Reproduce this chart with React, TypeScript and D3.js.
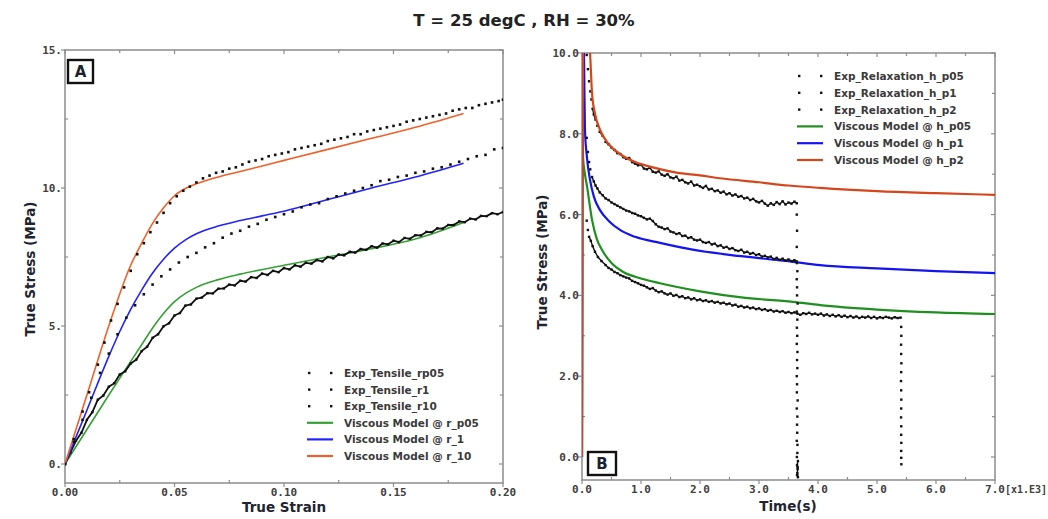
import React from "react";
import * as d3 from "d3";

type P = [number, number];

const chartTitle = "T = 25 degC , RH = 30%";

// ---------- Panel A axes ----------
const strainTicks = [0, 0.05, 0.1, 0.15, 0.2];
const strainTickLabels = ["0.00", "0.05", "0.10", "0.15", "0.20"];
const strainMinorTicks = [0.025, 0.075, 0.125, 0.175];
const stressTicksA = [0, 5, 10, 15];
const stressTickLabelsA = ["0.", "5.", "10.", "15."];
const stressMinorTicksA = [2.5, 7.5, 12.5];

// ---------- Panel B axes ----------
const timeTicks = [0, 1000, 2000, 3000, 4000, 5000, 6000, 7000];
const timeTickLabels = ["0.0", "1.0", "2.0", "3.0", "4.0", "5.0", "6.0", "7.0"];
const timeMinorTicks = [500, 1500, 2500, 3500, 4500, 5500, 6500];
const stressTicksB = [0, 2, 4, 6, 8, 10];
const stressTickLabelsB = ["0.0", "2.0", "4.0", "6.0", "8.0", "10.0"];
const stressMinorTicksB = [1, 3, 5, 7, 9];

// ---------- Panel A data (true strain, true stress MPa) ----------
const expTensileRp05: P[] = [
  [0, 0], [0.0025, 0.42], [0.005, 0.84], [0.0075, 1.13], [0.01, 1.6], [0.0125, 1.88], [0.015, 2.33], [0.0175, 2.48],
  [0.02, 2.8], [0.0225, 2.93], [0.025, 3.24], [0.0275, 3.36], [0.03, 3.64], [0.0325, 3.78], [0.035, 4.09], [0.0375, 4.25],
  [0.04, 4.57], [0.0425, 4.7], [0.045, 4.99], [0.0475, 5.1], [0.05, 5.38], [0.0525, 5.47], [0.055, 5.74], [0.0575, 5.78],
  [0.06, 5.99], [0.0625, 6.03], [0.065, 6.19], [0.0675, 6.18], [0.07, 6.35], [0.0725, 6.36], [0.075, 6.5], [0.0775, 6.47],
  [0.08, 6.64], [0.0825, 6.61], [0.085, 6.77], [0.0875, 6.74], [0.09, 6.9], [0.0925, 6.85], [0.095, 7.0], [0.0975, 6.95],
  [0.1, 7.1], [0.1025, 7.05], [0.105, 7.2], [0.1075, 7.15], [0.11, 7.29], [0.1125, 7.26], [0.115, 7.39], [0.1175, 7.34],
  [0.12, 7.5], [0.1225, 7.45], [0.125, 7.59], [0.1275, 7.56], [0.13, 7.69], [0.1325, 7.66], [0.135, 7.79], [0.1375, 7.76],
  [0.14, 7.89], [0.1425, 7.84], [0.145, 7.99], [0.1475, 7.96], [0.15, 8.09], [0.1525, 8.04], [0.155, 8.19], [0.1575, 8.16],
  [0.16, 8.29], [0.1625, 8.28], [0.165, 8.41], [0.1675, 8.4], [0.17, 8.54], [0.1725, 8.53], [0.175, 8.66], [0.1775, 8.66],
  [0.18, 8.79], [0.1825, 8.76], [0.185, 8.89], [0.1875, 8.86], [0.19, 8.99], [0.1925, 8.98], [0.195, 9.09], [0.1975, 9.05],
  [0.2, 9.13],
];

const expTensileR1: P[] = [
  [0, 0], [0.004, 0.8], [0.008, 1.6], [0.012, 2.4], [0.016, 3.3], [0.02, 4.0], [0.024, 4.7], [0.028, 5.3],
  [0.032, 5.75], [0.036, 6.15], [0.04, 6.5], [0.044, 6.8], [0.048, 7.05], [0.052, 7.3], [0.056, 7.5], [0.06, 7.65],
  [0.064, 7.85], [0.068, 8.0], [0.072, 8.2], [0.076, 8.35], [0.08, 8.45], [0.084, 8.6], [0.088, 8.7], [0.092, 8.85],
  [0.096, 8.95], [0.1, 9.05], [0.104, 9.15], [0.108, 9.3], [0.112, 9.4], [0.116, 9.45], [0.12, 9.6], [0.124, 9.7],
  [0.128, 9.8], [0.132, 9.9], [0.136, 10.0], [0.14, 10.1], [0.144, 10.25], [0.148, 10.3], [0.152, 10.4], [0.156, 10.45],
  [0.16, 10.55], [0.164, 10.6], [0.168, 10.7], [0.172, 10.75], [0.176, 10.85], [0.18, 10.95], [0.184, 11.05], [0.188, 11.15],
  [0.192, 11.2], [0.196, 11.4], [0.2, 11.45],
];

const expTensileR10: P[] = [
  [0, 0], [0.004, 0.9], [0.008, 1.9], [0.011, 2.6], [0.015, 3.6], [0.018, 4.4], [0.021, 5.2], [0.024, 5.8],
  [0.027, 6.4], [0.03, 7.0], [0.033, 7.6], [0.036, 8.0], [0.039, 8.4], [0.042, 8.75], [0.045, 9.1], [0.048, 9.45],
  [0.051, 9.7], [0.054, 9.9], [0.057, 10.05], [0.06, 10.2], [0.063, 10.35], [0.066, 10.45], [0.069, 10.55], [0.072, 10.6],
  [0.075, 10.7], [0.078, 10.75], [0.081, 10.85], [0.084, 10.95], [0.087, 11.0], [0.09, 11.05], [0.093, 11.15], [0.096, 11.2],
  [0.099, 11.25], [0.102, 11.3], [0.105, 11.4], [0.108, 11.45], [0.111, 11.5], [0.114, 11.55], [0.117, 11.6], [0.12, 11.7],
  [0.123, 11.75], [0.126, 11.8], [0.129, 11.85], [0.132, 11.95], [0.135, 11.95], [0.138, 12.05], [0.141, 12.1], [0.144, 12.15],
  [0.147, 12.2], [0.15, 12.25], [0.153, 12.3], [0.156, 12.4], [0.159, 12.45], [0.162, 12.5], [0.165, 12.55], [0.168, 12.6],
  [0.171, 12.65], [0.174, 12.7], [0.177, 12.8], [0.18, 12.85], [0.183, 12.9], [0.186, 12.9], [0.189, 13.0], [0.192, 13.05],
  [0.195, 13.1], [0.198, 13.15], [0.2, 13.2],
];

const modelRp05: P[] = [
  [0, 0], [0.01, 1.25], [0.02, 2.5], [0.03, 3.72], [0.035, 4.32], [0.04, 4.93], [0.045, 5.45], [0.05, 5.88],
  [0.055, 6.18], [0.06, 6.4], [0.07, 6.68], [0.08, 6.88], [0.1, 7.2], [0.12, 7.5], [0.14, 7.8], [0.16, 8.15], [0.182, 8.75],
];
const modelR1: P[] = [
  [0, 0], [0.01, 1.95], [0.02, 3.9], [0.025, 4.8], [0.03, 5.6], [0.035, 6.3], [0.04, 6.92], [0.045, 7.42], [0.05, 7.82],
  [0.055, 8.12], [0.06, 8.34], [0.07, 8.62], [0.08, 8.82], [0.09, 8.99], [0.1, 9.16], [0.12, 9.58], [0.14, 10.0],
  [0.16, 10.4], [0.182, 10.9],
];
const modelR10: P[] = [
  [0, 0], [0.01, 2.5], [0.02, 5.0], [0.03, 7.2], [0.035, 8.0], [0.04, 8.72], [0.045, 9.28], [0.05, 9.72], [0.055, 9.98],
  [0.06, 10.15], [0.07, 10.4], [0.08, 10.6], [0.09, 10.8], [0.1, 11.0], [0.12, 11.4], [0.14, 11.8], [0.16, 12.2], [0.182, 12.7],
];

// ---------- Panel B data (time s, true stress MPa) ----------
const expRelaxHp05: P[] = [
  [80, 5.85], [100, 5.62], [120, 5.45], [150, 5.35], [180, 5.22], [220, 5.08], [270, 4.95], [330, 4.85], [400, 4.75],
  [450, 4.68], [500, 4.64], [550, 4.58], [600, 4.55], [650, 4.5], [700, 4.47], [750, 4.44], [800, 4.42], [850, 4.36],
  [900, 4.33], [950, 4.3], [1000, 4.26], [1050, 4.24], [1100, 4.2], [1150, 4.16], [1200, 4.18], [1250, 4.12], [1300, 4.08],
  [1350, 4.1], [1400, 4.05], [1450, 4.02], [1500, 4.05], [1550, 3.99], [1600, 4.01], [1650, 3.96], [1700, 3.98], [1750, 3.93],
  [1800, 3.95], [1850, 3.9], [1900, 3.93], [1950, 3.88], [2000, 3.9], [2050, 3.86], [2100, 3.88], [2150, 3.84], [2200, 3.86],
  [2250, 3.82], [2300, 3.84], [2350, 3.8], [2400, 3.82], [2450, 3.78], [2500, 3.8], [2550, 3.75], [2600, 3.77], [2650, 3.72],
  [2700, 3.74], [2750, 3.7], [2800, 3.72], [2850, 3.68], [2900, 3.7], [2950, 3.66], [3000, 3.68], [3050, 3.64], [3100, 3.66],
  [3150, 3.62], [3200, 3.64], [3250, 3.6], [3300, 3.62], [3350, 3.59], [3400, 3.61], [3450, 3.57], [3500, 3.59], [3550, 3.56],
  [3600, 3.58], [3650, 3.55], [3700, 3.52], [3750, 3.56], [3800, 3.54], [3850, 3.57], [3900, 3.53], [3950, 3.55], [4000, 3.52],
  [4050, 3.55], [4100, 3.5], [4150, 3.53], [4200, 3.49], [4250, 3.52], [4300, 3.48], [4350, 3.51], [4400, 3.47], [4450, 3.5],
  [4500, 3.46], [4550, 3.49], [4600, 3.45], [4650, 3.48], [4700, 3.44], [4750, 3.47], [4800, 3.45], [4850, 3.48], [4900, 3.44],
  [4950, 3.47], [5000, 3.43], [5050, 3.46], [5100, 3.44], [5150, 3.47], [5200, 3.45], [5250, 3.43], [5300, 3.46], [5350, 3.44],
  [5400, 3.45],
  [5410, 3.22], [5412, 3.0], [5408, 2.78], [5410, 2.55], [5413, 2.32], [5410, 2.1], [5407, 1.88], [5410, 1.65], [5412, 1.42],
  [5410, 1.2], [5408, 0.98], [5411, 0.76], [5410, 0.55], [5412, 0.35], [5410, 0.15], [5411, -0.02], [5413, -0.18],
];

const expRelaxHp1: P[] = [
  [80, 7.9], [100, 7.55], [120, 7.3], [140, 7.12], [170, 6.93], [200, 6.82], [230, 6.72], [260, 6.65], [300, 6.55],
  [350, 6.48], [400, 6.4], [450, 6.36], [500, 6.3], [550, 6.26], [600, 6.22], [650, 6.18], [700, 6.14], [750, 6.1],
  [800, 6.08], [850, 6.04], [900, 6.02], [950, 5.98], [1000, 5.96], [1050, 5.92], [1100, 5.88], [1150, 5.9], [1200, 5.84],
  [1250, 5.76], [1300, 5.7], [1350, 5.68], [1400, 5.64], [1450, 5.66], [1500, 5.58], [1550, 5.56], [1600, 5.52], [1650, 5.54],
  [1700, 5.47], [1750, 5.48], [1800, 5.42], [1850, 5.44], [1900, 5.38], [1950, 5.36], [2000, 5.38], [2050, 5.32], [2100, 5.3],
  [2150, 5.32], [2200, 5.26], [2250, 5.28], [2300, 5.22], [2350, 5.24], [2400, 5.18], [2450, 5.2], [2500, 5.15], [2550, 5.17],
  [2600, 5.12], [2650, 5.1], [2700, 5.13], [2750, 5.06], [2800, 5.08], [2850, 5.03], [2900, 5.05], [2950, 5.0], [3000, 5.02],
  [3050, 4.96], [3100, 4.98], [3150, 4.94], [3200, 4.96], [3250, 4.9], [3300, 4.93], [3350, 4.88], [3400, 4.91], [3450, 4.86],
  [3500, 4.89], [3550, 4.85], [3600, 4.87], [3640, 4.84],
  [3650, 4.6], [3645, 4.2], [3655, 3.8], [3650, 3.4], [3648, 3.0], [3652, 2.6], [3650, 2.2], [3645, 1.8], [3655, 1.4],
  [3650, 1.0], [3648, 0.6], [3652, 0.3], [3650, 0.1], [3660, -0.1], [3645, -0.2], [3655, -0.3], [3650, -0.4], [3660, -0.5],
];

const expRelaxHp2: P[] = [
  [80, 9.95], [100, 9.6], [120, 9.3], [140, 9.05], [160, 8.85], [180, 8.62], [200, 8.48], [230, 8.35], [260, 8.2],
  [300, 8.05], [350, 7.95], [400, 7.8], [450, 7.74], [500, 7.66], [550, 7.6], [600, 7.52], [650, 7.5], [700, 7.42],
  [750, 7.38], [800, 7.4], [850, 7.3], [900, 7.26], [950, 7.22], [1000, 7.24], [1050, 7.14], [1100, 7.12], [1150, 7.16],
  [1200, 7.06], [1250, 7.04], [1300, 7.07], [1350, 6.99], [1400, 6.96], [1450, 7.0], [1500, 6.92], [1550, 6.9], [1600, 6.94],
  [1650, 6.84], [1700, 6.86], [1750, 6.8], [1800, 6.77], [1850, 6.82], [1900, 6.72], [1950, 6.74], [2000, 6.7], [2050, 6.66],
  [2100, 6.71], [2150, 6.62], [2200, 6.64], [2250, 6.58], [2300, 6.6], [2350, 6.54], [2400, 6.57], [2450, 6.5], [2500, 6.53],
  [2550, 6.47], [2600, 6.5], [2650, 6.44], [2700, 6.46], [2750, 6.4], [2800, 6.42], [2850, 6.36], [2900, 6.39], [2950, 6.33],
  [3000, 6.3], [3050, 6.34], [3100, 6.27], [3150, 6.22], [3200, 6.28], [3250, 6.24], [3300, 6.31], [3350, 6.26], [3400, 6.33],
  [3450, 6.25], [3500, 6.3], [3550, 6.27], [3600, 6.32], [3640, 6.28],
  [3640, 6.0], [3645, 5.6], [3640, 5.2], [3642, 4.8], [3640, 4.4], [3645, 4.0], [3640, 3.6], [3642, 3.2], [3640, 2.8],
  [3645, 2.4], [3640, 2.0], [3642, 1.6], [3640, 1.2], [3645, 0.8], [3640, 0.4], [3642, 0.0], [3655, -0.25], [3645, -0.45],
];

const modelHp05: P[] = [
  [0, 0], [8, 8.0], [17, 7.43], [50, 7.0], [85, 6.7], [170, 5.87], [250, 5.4], [350, 5.1], [500, 4.8], [700, 4.58],
  [1000, 4.42], [1322, 4.3], [2000, 4.1], [2700, 3.95], [3576, 3.84], [4034, 3.76], [5000, 3.65], [6000, 3.58], [7000, 3.54],
];
const modelHp1: P[] = [
  [0, 0], [15, 11], [35, 9.8], [50, 8.1], [85, 7.4], [136, 6.86], [200, 6.45], [305, 6.11], [450, 5.85], [644, 5.62],
  [900, 5.45], [1322, 5.3], [2000, 5.1], [2700, 4.97], [3576, 4.83], [4034, 4.75], [5000, 4.67], [6000, 4.6], [7000, 4.55],
];
const modelHp2: P[] = [
  [0, 0], [25, 11.5], [100, 10.4], [136, 10.0], [170, 9.0], [220, 8.5], [305, 8.1], [450, 7.75], [644, 7.5], [900, 7.3],
  [1200, 7.17], [1600, 7.04], [2000, 6.97], [2340, 6.9], [3000, 6.8], [3500, 6.72], [4034, 6.66], [5000, 6.58], [6000, 6.53],
  [7000, 6.49],
];

const legendA = [
  { label: "Exp_Tensile_rp05", kind: "dots", color: "#111" },
  { label: "Exp_Tensile_r1", kind: "dots", color: "#111" },
  { label: "Exp_Tensile_r10", kind: "dots", color: "#111" },
  { label: "Viscous Model @ r_p05", kind: "line", color: "#35a035" },
  { label: "Viscous Model @ r_1", kind: "line", color: "#2222ff" },
  { label: "Viscous Model @ r_10", kind: "line", color: "#f0602a" },
];
const legendB = [
  { label: "Exp_Relaxation_h_p05", kind: "dots", color: "#111" },
  { label: "Exp_Relaxation_h_p1", kind: "dots", color: "#111" },
  { label: "Exp_Relaxation_h_p2", kind: "dots", color: "#111" },
  { label: "Viscous Model @ h_p05", kind: "line", color: "#1f8f1f" },
  { label: "Viscous Model @ h_p1", kind: "line", color: "#1414f0" },
  { label: "Viscous Model @ h_p2", kind: "line", color: "#d5461c" },
];

const TICK_FONT = "'DejaVu Sans Mono', monospace";
const SANS = "'DejaVu Sans', Verdana, sans-serif";
const FRAME = "#8c8c8c";

type Scale = d3.ScaleLinear<number, number>;

function Dots({ data, x, y, maxGap, size, lineWidth }: { data: P[]; x: Scale; y: Scale; maxGap: number; size: number; lineWidth?: number }) {
  const segs: string[] = [];
  if (maxGap > 0) {
    for (let i = 1; i < data.length; i++) {
      const x0 = x(data[i - 1][0]), y0 = y(data[i - 1][1]);
      const x1 = x(data[i][0]), y1 = y(data[i][1]);
      if (Math.abs(x1 - x0) < 9 && Math.abs(y1 - y0) < maxGap) segs.push(`M${x0},${y0}L${x1},${y1}`);
    }
  }
  return (
    <g>
      {maxGap > 0 && <path d={segs.join("")} stroke="#111" strokeWidth={lineWidth || 1.4} fill="none" />}
      {data.map((d, i) => (
        <rect key={i} x={x(d[0]) - size / 2} y={y(d[1]) - size / 2} width={size} height={size} fill="#111" />
      ))}
    </g>
  );
}

function Model({ data, x, y, color, width }: { data: P[]; x: Scale; y: Scale; color: string; width: number }) {
  const line = d3
    .line<P>()
    .x((d) => x(d[0]))
    .y((d) => y(d[1]))
    .curve(d3.curveMonotoneX);
  return <path d={line(data) || ""} stroke={color} strokeWidth={width} fill="none" strokeLinejoin="round" />;
}

function Frame({
  x, y, top, bottom, left, right, xTicks, xLabels, xMinor, yTicks, yLabels, yMinor,
}: {
  x: Scale; y: Scale; top: number; bottom: number; left: number; right: number;
  xTicks: number[]; xLabels: string[]; xMinor: number[]; yTicks: number[]; yLabels: string[]; yMinor: number[];
}) {
  return (
    <g>
      <rect x={left} y={top} width={right - left} height={bottom - top} fill="none" stroke={FRAME} strokeWidth={1.5} />
      {xTicks.map((t, i) => (
        <g key={"xt" + i}>
          <line x1={x(t)} x2={x(t)} y1={bottom} y2={bottom + 4} stroke={FRAME} strokeWidth={1.2} />
          <line x1={x(t)} x2={x(t)} y1={top} y2={top + 4} stroke={FRAME} strokeWidth={1.2} />
          <text x={x(t)} y={bottom + 13} textAnchor="middle" fontFamily={TICK_FONT} fontWeight="bold" fontSize={11} fill="#404040">
            {xLabels[i]}
          </text>
        </g>
      ))}
      {xMinor.map((t, i) => (
        <g key={"xm" + i}>
          <line x1={x(t)} x2={x(t)} y1={bottom} y2={bottom - 3} stroke={FRAME} strokeWidth={1.2} />
          <line x1={x(t)} x2={x(t)} y1={top} y2={top + 3} stroke={FRAME} strokeWidth={1.2} />
        </g>
      ))}
      {yTicks.map((t, i) => (
        <g key={"yt" + i}>
          <line x1={left - 4} x2={left} y1={y(t)} y2={y(t)} stroke={FRAME} strokeWidth={1.2} />
          <line x1={right - 4} x2={right} y1={y(t)} y2={y(t)} stroke={FRAME} strokeWidth={1.2} />
          <text x={left - 3} y={y(t) + 4} textAnchor="end" fontFamily={TICK_FONT} fontWeight="bold" fontSize={11} fill="#404040">
            {yLabels[i]}
          </text>
        </g>
      ))}
      {yMinor.map((t, i) => (
        <g key={"ym" + i}>
          <line x1={left} x2={left + 3} y1={y(t)} y2={y(t)} stroke={FRAME} strokeWidth={1.2} />
          <line x1={right - 3} x2={right} y1={y(t)} y2={y(t)} stroke={FRAME} strokeWidth={1.2} />
        </g>
      ))}
    </g>
  );
}

function Legend({ items, x, y0, dy }: { items: typeof legendA; x: number; y0: number; dy: number }) {
  return (
    <g>
      {items.map((it, i) => {
        const yy = y0 + i * dy;
        return (
          <g key={i}>
            {it.kind === "dots" ? (
              <g>
                <rect x={x + 1} y={yy - 1.2} width={2.4} height={2.4} fill="#111" />
                <rect x={x + 23} y={yy - 1.2} width={2.4} height={2.4} fill="#111" />
              </g>
            ) : (
              <line x1={x} x2={x + 26} y1={yy} y2={yy} stroke={it.color} strokeWidth={2.2} />
            )}
            <text x={x + 37} y={yy + 4} fontFamily={SANS} fontWeight="bold" fontSize={10.5} fill="#3a3a3a">
              {it.label}
            </text>
          </g>
        );
      })}
    </g>
  );
}

function PanelLabel({ x, y, w, h, text }: { x: number; y: number; w: number; h: number; text: string }) {
  return (
    <g>
      <rect x={x} y={y} width={w} height={h} fill="#fff" stroke="#111" strokeWidth={2.4} />
      <text x={x + w / 2} y={y + h / 2 + 5.5} textAnchor="middle" fontFamily={SANS} fontWeight="bold" fontSize={15} fill="#1a2230">
        {text}
      </text>
    </g>
  );
}

export default function App() {
  // Panel A geometry
  const aL = 65, aR = 503, aT = 50, aB = 483;
  const xA = d3.scaleLinear().domain([0, 0.2]).range([aL, aR]);
  const yA = d3.scaleLinear().domain([0, 15]).range([464, aT]);
  // Panel B geometry
  const bL = 582, bR = 995, bT = 53, bB = 480;
  const xB = d3.scaleLinear().domain([0, 7000]).range([bL, bR]);
  const yB = d3.scaleLinear().domain([0, 10]).range([457, bT]);

  return (
    <svg width={1048} height={519} style={{ position: "absolute", left: 0, top: 0, background: "#fff" }}>
      <defs>
        <clipPath id="clipA">
          <rect x={aL} y={aT} width={aR - aL} height={aB - aT} />
        </clipPath>
        <clipPath id="clipB">
          <rect x={bL} y={bT} width={bR - bL} height={bB - bT} />
        </clipPath>
      </defs>
      <rect x={0} y={0} width={1048} height={519} fill="#fff" />
      <text x={524} y={26} textAnchor="middle" fontFamily={SANS} fontWeight="bold" fontSize={16.5} fill="#222">
        {chartTitle}
      </text>

      {/* Panel A */}
      <Frame x={xA} y={yA} top={aT} bottom={aB} left={aL} right={aR}
        xTicks={strainTicks} xLabels={strainTickLabels} xMinor={strainMinorTicks}
        yTicks={stressTicksA} yLabels={stressTickLabelsA} yMinor={stressMinorTicksA} />
      <g clipPath="url(#clipA)">
        <Model data={modelRp05} x={xA} y={yA} color="#35a035" width={1.6} />
        <Dots data={expTensileRp05} x={xA} y={yA} maxGap={16} size={2.4} lineWidth={1.8} />
        <Model data={modelR1} x={xA} y={yA} color="#2222ff" width={1.6} />
        <Model data={modelR10} x={xA} y={yA} color="#f0602a" width={1.6} />
        <Dots data={expTensileR1} x={xA} y={yA} maxGap={0} size={2.6} />
        <Dots data={expTensileR10} x={xA} y={yA} maxGap={0} size={2.6} />
      </g>
      <PanelLabel x={68} y={60} w={25} h={23} text="A" />
      <Legend items={legendA} x={307} y0={373} dy={16.6} />
      <text x={(aL + aR) / 2} y={512} textAnchor="middle" fontFamily={SANS} fontWeight="bold" fontSize={13.5} fill="#1e2430">
        True Strain
      </text>
      <text transform={`translate(35,${269}) rotate(-90)`} textAnchor="middle" fontFamily={SANS} fontWeight="bold" fontSize={13.5} fill="#1e2430">
        True Stress (MPa)
      </text>

      {/* Panel B */}
      <Frame x={xB} y={yB} top={bT} bottom={bB} left={bL} right={bR}
        xTicks={timeTicks} xLabels={timeTickLabels} xMinor={timeMinorTicks}
        yTicks={stressTicksB} yLabels={stressTickLabelsB} yMinor={stressMinorTicksB} />
      <g clipPath="url(#clipB)">
        <Model data={modelHp05} x={xB} y={yB} color="#1f8f1f" width={2.2} />
        <Model data={modelHp1} x={xB} y={yB} color="#1414f0" width={2.2} />
        <Dots data={expRelaxHp05} x={xB} y={yB} maxGap={6} size={2.4} />
        <Dots data={expRelaxHp1} x={xB} y={yB} maxGap={6} size={2.4} />
        <Dots data={expRelaxHp2} x={xB} y={yB} maxGap={6} size={2.4} />
        <Model data={modelHp2} x={xB} y={yB} color="#d5461c" width={2.2} />
      </g>
      <PanelLabel x={588} y={452} w={28} h={23} text="B" />
      <Legend items={legendB} x={797} y0={76} dy={16.8} />
      <text x={1005} y={bB + 13} fontFamily={TICK_FONT} fontWeight="bold" fontSize={10} fill="#404040">
        [x1.E3]
      </text>
      <text x={788} y={511} textAnchor="middle" fontFamily={SANS} fontWeight="bold" fontSize={13.5} fill="#1e2430">
        Time(s)
      </text>
      <text transform={`translate(547,${262}) rotate(-90)`} textAnchor="middle" fontFamily={SANS} fontWeight="bold" fontSize={13.5} fill="#1e2430">
        True Stress (MPa)
      </text>
    </svg>
  );
}
